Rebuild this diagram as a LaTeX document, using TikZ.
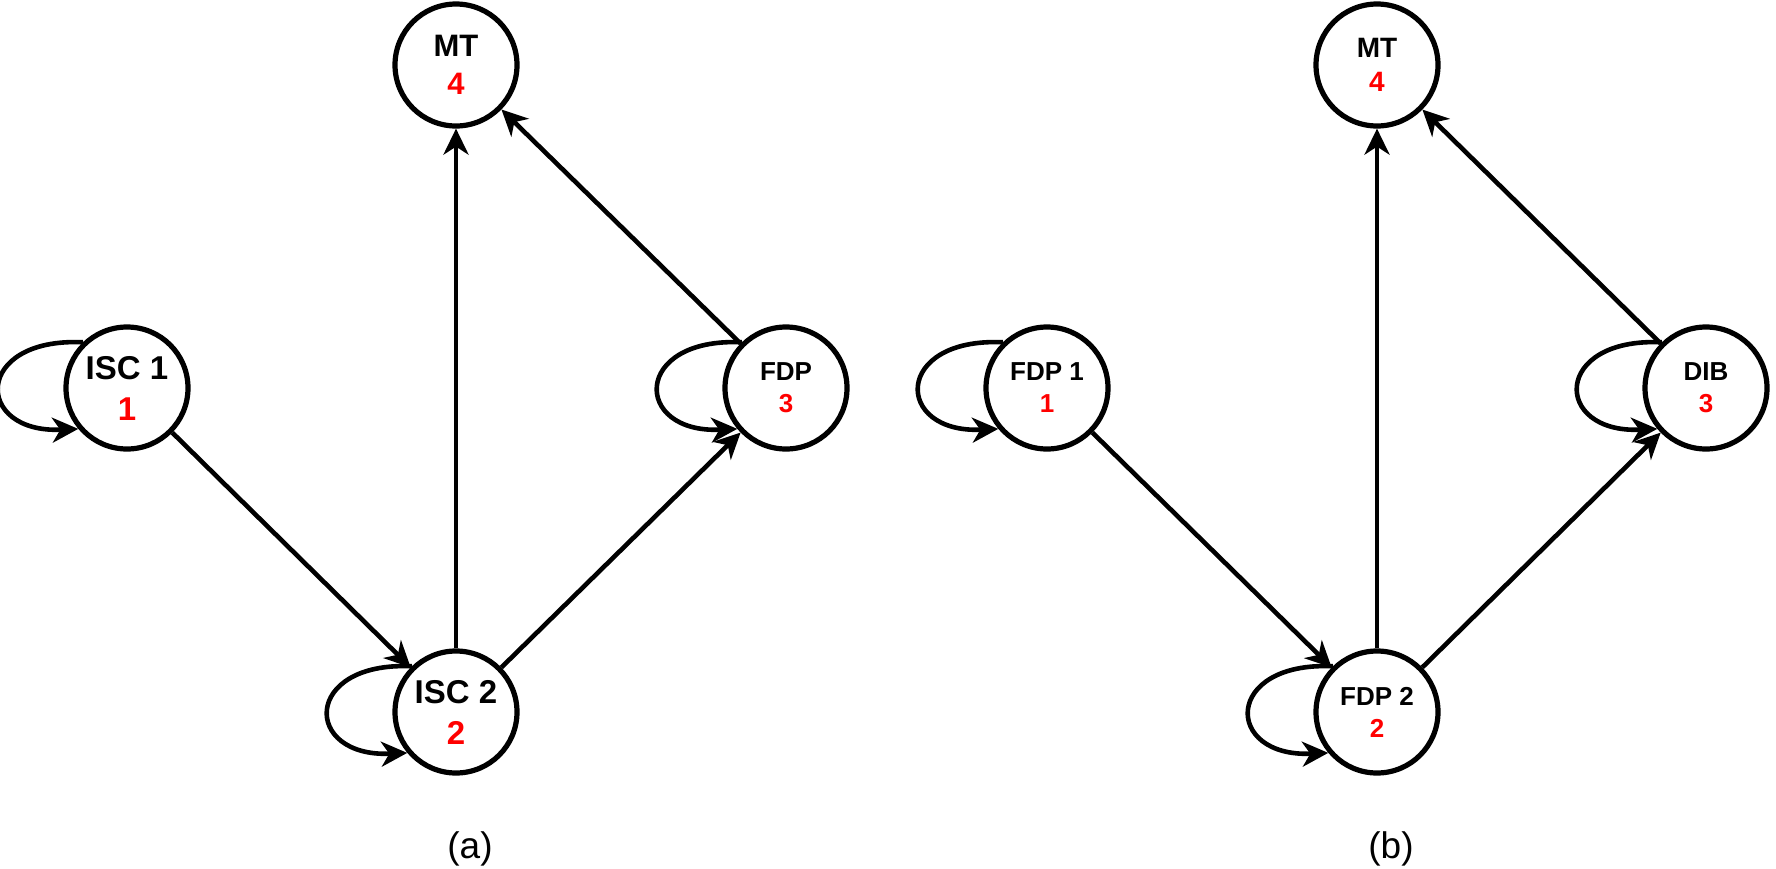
\documentclass[tikz,border=0pt]{standalone}
\usepackage{fontspec}
\setmainfont{Liberation Sans}
\usetikzlibrary{arrows.meta}
\newcommand\selfloop[1]{\draw[arr] (#1.134) .. controls +(-110,-5) and +(-105,5) .. (#1.220);}
\begin{document}
\begin{tikzpicture}[x=0.5pt,y=-0.5pt,
  st/.style={circle, draw, line width=2.6pt, minimum size=61pt, inner sep=0pt, align=center},
  big/.style={font=\fontsize{16.5}{20.5}\selectfont\bfseries},
  mid/.style={font=\fontsize{15.5}{19}\selectfont\bfseries},
  small/.style={font=\fontsize{13}{16}\selectfont\bfseries},
  smallmt/.style={font=\fontsize{14}{17}\selectfont\bfseries},
  arr/.style={line width=2.3pt, -{Stealth[length=13pt,width=12.5pt,inset=4pt]}},
  sublabel/.style={font=\fontsize{18.5}{22}\selectfont}]
\useasboundingbox (0,0) rectangle (1776,868);
% (a)
\node[st,big] (a1) at (127,388) {ISC 1\\\textcolor{red}{1}};
\node[st,big] (a2) at (456,712) {ISC 2\\\textcolor{red}{2}};
\node[st,small] (a3) at (786,388) {FDP\\\textcolor{red}{3}};
\node[st,mid] (a4) at (456,65) {MT\\\textcolor{red}{4}};
\draw[arr] (a1) -- (a2);
\draw[arr] (a2) -- (a4);
\draw[arr] (a2) -- (a3);
\draw[arr] (a3) -- (a4);
\selfloop{a1}
\selfloop{a2}
\selfloop{a3}
\node[sublabel] (la) at (470,849) {(a)};
% (b)
\node[st,small] (b1) at (1047,388) {FDP 1\\\textcolor{red}{1}};
\node[st,small] (b2) at (1377,712) {FDP 2\\\textcolor{red}{2}};
\node[st,small] (b3) at (1706,388) {DIB\\\textcolor{red}{3}};
\node[st,smallmt] (b4) at (1377,65) {MT\\\textcolor{red}{4}};
\draw[arr] (b1) -- (b2);
\draw[arr] (b2) -- (b4);
\draw[arr] (b2) -- (b3);
\draw[arr] (b3) -- (b4);
\selfloop{b1}
\selfloop{b2}
\selfloop{b3}
\node[sublabel] (lb) at (1391,849) {(b)};
\end{tikzpicture}
\end{document}
